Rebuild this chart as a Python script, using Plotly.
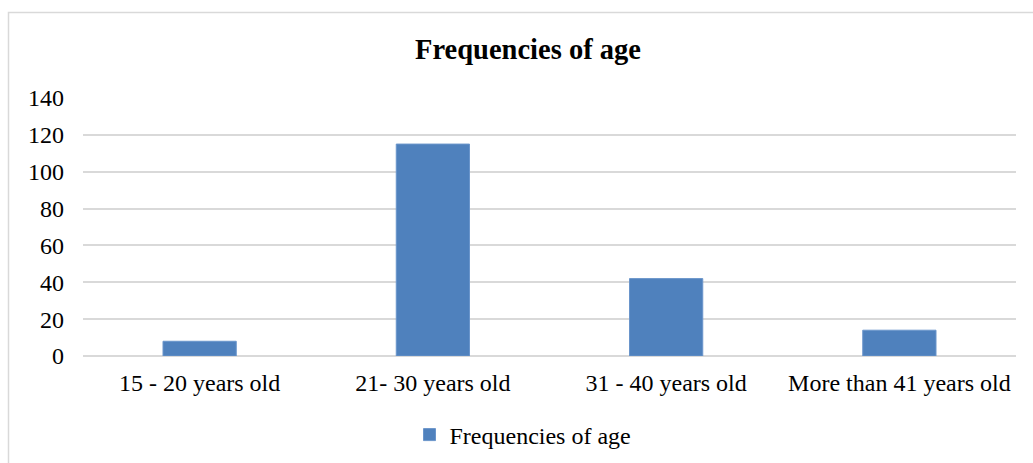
import plotly.graph_objects as go

# Age groups and respondent counts
categories = ["15 - 20 years old", "21- 30 years old", "31 - 40 years old", "More than 41 years old"]
frequencies = [8, 115, 42, 14]
tick_values = [0, 20, 40, 60, 80, 100, 120, 140]
series_name = "Frequencies of age"
chart_title = "Frequencies of age"

W, H = 1033, 463
ML, MR, MT, MB = 83, 17, 98, 107
PW, PH = W - ML - MR, H - MT - MB

FONT = "Liberation Serif, Times New Roman, serif"
GRID = "#d9d9d9"


def px_x(x):
    return (x - ML) / PW


def px_y(y):
    return 1 - (y - MT) / PH


fig = go.Figure(
    go.Bar(
        x=categories,
        y=frequencies,
        name=series_name,
        marker=dict(color="#4f81bd", line=dict(color="#6a95cb", width=1)),
        showlegend=True,
    )
)

fig.update_layout(
    width=W,
    height=H,
    margin=dict(l=ML, r=MR, t=MT, b=MB, autoexpand=False),
    paper_bgcolor="white",
    plot_bgcolor="white",
    bargap=0.686,
    font=dict(family=FONT, size=24, color="#000000"),
    title=dict(
        text="<b>" + chart_title + "</b>",
        x=px_x(528),
        xref="paper",
        xanchor="center",
        y=1 - 49 / H,
        yref="container",
        yanchor="middle",
        font=dict(family=FONT, size=28.5, color="#000000"),
    ),
    xaxis=dict(
        showgrid=False,
        showline=False,
        ticks="",
        tickfont=dict(family=FONT, size=24),
        ticklabelstandoff=10,
    ),
    yaxis=dict(
        range=[0, 140],
        tickvals=tick_values,
        showgrid=True,
        gridcolor=GRID,
        gridwidth=2,
        zeroline=True,
        zerolinecolor=GRID,
        zerolinewidth=2,
        showline=False,
        ticks="",
        tickfont=dict(family=FONT, size=24),
        ticklabelstandoff=18,
    ),
    legend=dict(
        orientation="h",
        x=px_x(523),
        xanchor="center",
        y=px_y(435),
        yanchor="middle",
        font=dict(family=FONT, size=24),
        itemwidth=30,
    ),
    shapes=[
        dict(
            type="rect",
            xref="paper",
            yref="paper",
            x0=px_x(8.5),
            x1=px_x(1045),
            y0=px_y(475),
            y1=px_y(12.5),
            line=dict(color=GRID, width=1.5),
            fillcolor="rgba(0,0,0,0)",
            layer="below",
        )
    ],
)

fig.write_html("out.html")
